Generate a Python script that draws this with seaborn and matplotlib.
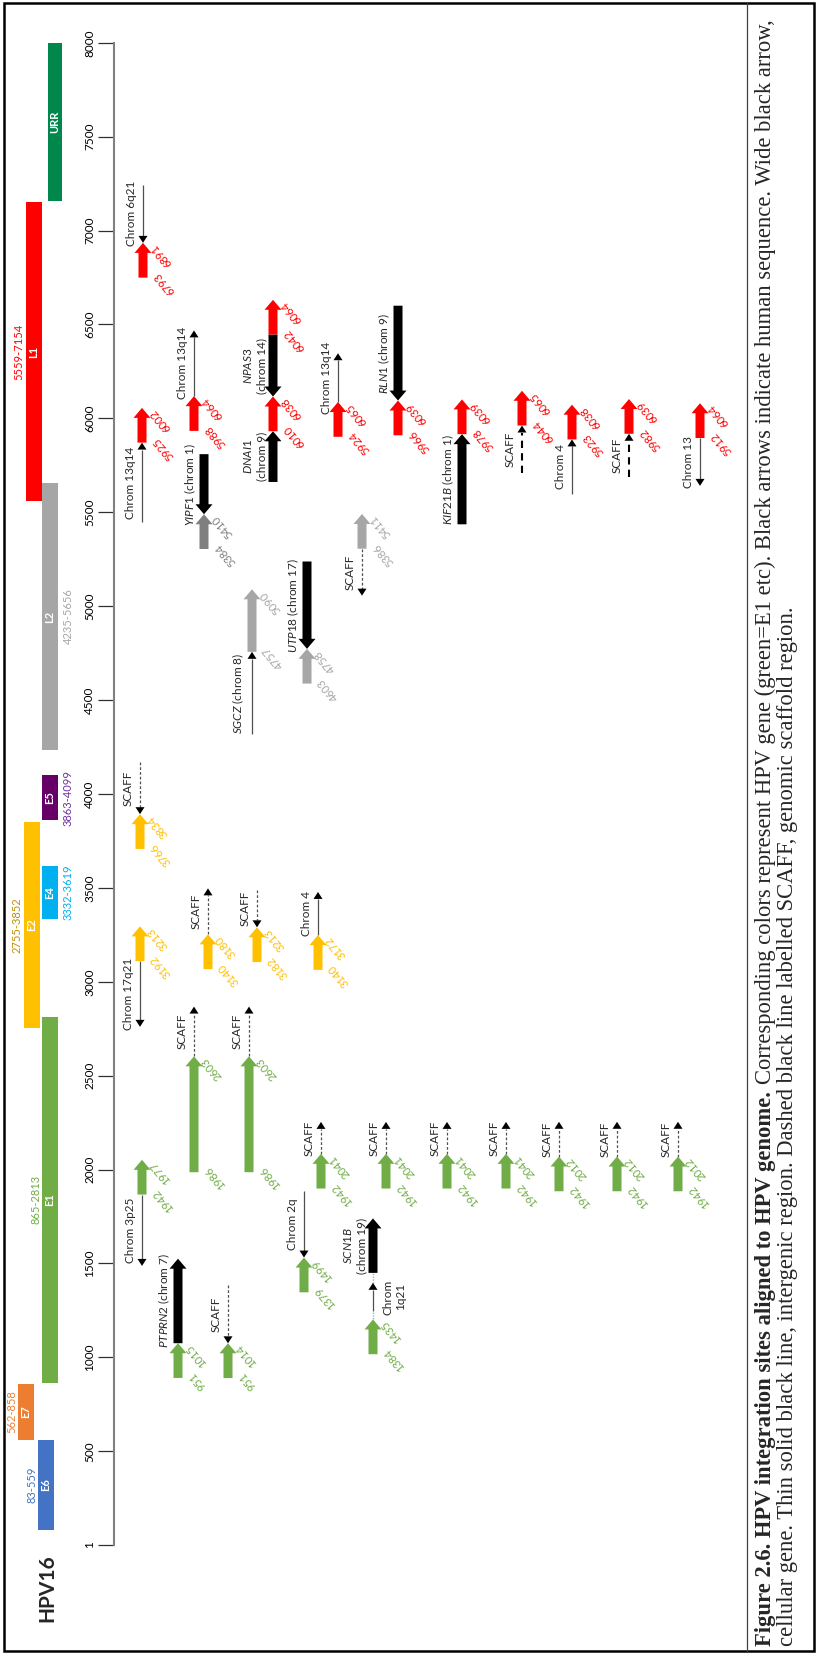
import matplotlib
matplotlib.use("Agg")
import matplotlib.pyplot as plt
from matplotlib.patches import Polygon, Rectangle
from matplotlib.lines import Line2D
import seaborn as sns

sns.set_theme(style="white")
plt.rcParams["font.family"] = ["Lato", "DejaVu Sans"]
plt.rcParams["mathtext.fontset"] = "custom"
plt.rcParams["mathtext.rm"] = "Lato"
plt.rcParams["mathtext.it"] = "Lato:italic"
plt.rcParams["mathtext.bf"] = "Lato:bold"

# ---------------- HPV16 genome map ----------------
gene_names = ["E6", "E7", "E1", "E2", "E4", "E5", "L2", "L1", "URR"]
gene_start = [83, 562, 865, 2755, 3332, 3863, 4235, 5559, 7155]
gene_end = [559, 858, 2813, 3852, 3619, 4099, 5656, 7154, 8000]
gene_ranges = ["83-559", "562-858", "865-2813", "2755-3852", "3332-3619",
               "3863-4099", "4235-5656", "5559-7154", ""]
genome_ticks = [1, 500, 1000, 1500, 2000, 2500, 3000, 3500, 4000,
                4500, 5000, 5500, 6000, 6500, 7000, 7500, 8000]

# ---------------- viral segment of each integration site ----------------
site_start = [6793, 5925, 3766, 3192, 1942, 951, 5988, 5384, 1986, 3140, 951, 1986,
              3182, 4757, 6010, 4603, 1379, 3140, 1942, 5924, 5386, 1384, 1942, 5966,
              1942, 5978, 1942, 6044, 1942, 5923, 1942, 5982, 1942, 5912]
site_end = [6891, 6002, 3834, 3213, 1977, 1015, 6064, 5410, 2603, 3180, 1014, 2603,
            3213, 5090, 6038, 4758, 1499, 3172, 2041, 6065, 5411, 1435, 2041, 6039,
            2041, 6039, 2041, 6065, 2012, 6038, 2012, 6039, 2012, 6064]
site_gene = ["L1", "L1", "E2", "E2", "E1", "E1", "L1", "L2", "E1", "E2", "E1", "E1",
             "E2", "L2", "L1", "L2", "E1", "E2", "E1", "L1", "L2", "E1", "E1", "L1",
             "E1", "L1", "E1", "L1", "E1", "L1", "E1", "L1", "E1", "L1"]

# joined sequence below / above each viral segment, listed outward:
# (kind, span in bp, arrow direction, label)
site_below = [
    [], [("line", 425, "up", "Chrom 13q14")], [], [("line", 350, "down", "Chrom 17q21")],
    [("line", 380, "down", "Chrom 3p25")], [], [], [], [], [], [], [], [],
    [("line", 440, "up", "SGCZ (chrom 8)")], [("gene", 270, "up", "DNAI1\n(chrom 9)")],
    [], [], [], [], [], [("dash", 250, "down", "SCAFF")], [], [], [], [],
    [("gene", 480, "up", "KIF21B (chrom 1)")], [], [("dash2", 255, "up", "SCAFF")], [],
    [("line", 290, "up", "Chrom 4")], [], [("dash2", 230, "up", "SCAFF")], [],
    [("line", 255, "down", "Chrom 13")],
]
site_above = [
    [("line", 310, "down", "Chrom 6q21")], [], [("dash", 280, "down", "SCAFF")], [], [],
    [("gene", 450, "up", "PTPRN2 (chrom 7)")], [("line", 350, "up", "Chrom 13q14")],
    [("gene", 320, "down", "YIPF1 (chrom 1)")], [("dash", 265, "up", "SCAFF")],
    [("dash", 245, "up", "SCAFF")], [("dash", 310, "down", "SCAFF")],
    [("dash", 265, "up", "SCAFF")], [("dash", 200, "down", "SCAFF")], [],
    [("gene", 330, "down", "NPAS3\n(chrom 14)"), ("hpv", 6042, 6064, "L1")],
    [("gene", 465, "down", "UTP18 (chrom 17)")], [("line", 355, "down", "Chrom 2q")],
    [("line", 230, "up", "Chrom 4")], [("dash", 170, "up", "SCAFF")],
    [("line", 260, "up", "Chrom 13q14")], [],
    [("link", 45, None, ""), ("line", 150, "up", "Chrom\n1q21"), ("link", 53, None, ""),
     ("gene", 290, "up", "SCN1B\n(chrom 19)")],
    [("dash", 170, "up", "SCAFF")], [("gene", 505, "down", "RLN1 (chrom 9)")],
    [("dash", 170, "up", "SCAFF")], [], [("dash", 170, "up", "SCAFF")], [],
    [("dash", 185, "up", "SCAFF")], [], [("dash", 185, "up", "SCAFF")], [],
    [("dash", 185, "up", "SCAFF")], [],
]

caption_bold = "Figure 2.6. HPV integration sites aligned to HPV genome."
caption_rest = ("Corresponding colors represent HPV gene (green=E1 etc). Black arrows "
                "indicate human sequence. Wide black arrow,")
caption_line2 = ("cellular gene. Thin solid black line, intergenic region. Dashed black "
                 "line labelled SCAFF, genomic scaffold region.")

# ---------------- layout & style ----------------
FIG_W, FIG_H = 817, 1654
AXIS_X = 114            # pixel column of the genome axis
Y1_PX, SCALE = 1545, 0.1878   # pixel row of position 1, pixels per bp
PX = 1.0 / SCALE        # bp per pixel
MIN_SPAN = 185          # shortest drawn viral segment (bp)

gene_colors = {"E6": "#4472C4", "E7": "#ED7D31", "E1": "#70AD47", "E2": "#FFC000",
               "E4": "#00B0F0", "E5": "#660066", "L2": "#A6A6A6", "L1": "#FF0000",
               "URR": "#00884C"}
range_colors = dict(gene_colors, E2="#BF9000", E5="#7030A0")
gene_xc = {"E6": 46, "E7": 26, "E1": 50, "E2": 32, "E4": 50, "E5": 50,
           "L2": 50, "L1": 33.5, "URR": 55}
gene_w = {"URR": 14}
range_side = {"E6": "left", "E7": "left", "E1": "left", "E2": "left", "E4": "right",
              "E5": "right", "L2": "right", "L1": "left"}
lane_x = [143, 142, 140, 140, 142, 178, 194, 204, 194, 208, 228, 249, 257, 252, 273,
          307, 304, 318, 321, 338, 362, 373, 386, 398, 447, 462, 506, 522, 559, 572,
          617, 629, 678, 700]
# schematic vertical offset (bp) so a stack clears the SCAFF row above it
lane_shift = {21: -300}
shade_override = {7: "#7F7F7F"}
right_side_labels = {"Chrom\n1q21"}
line_styles = {
    "line": dict(color="#505050", lw=0.9, ls="-"),
    "dash": dict(color="#505050", lw=0.9, ls=(0, (2.2, 1.6))),
    "dash2": dict(color="black", lw=1.5, ls=(0, (3.5, 2.5))),
    "link": dict(color="#8FB4E3", lw=1.0, ls=(0, (1, 1))),
}
NUM_FS, TXT_FS, GENE_FS = 8.0, 8.5, 8.0

fig = plt.figure(figsize=(FIG_W / 100, FIG_H / 100), dpi=100)
ax = fig.add_axes([AXIS_X / FIG_W, 0, 1 - AXIS_X / FIG_W, 1])
ax.set_xlim(AXIS_X, FIG_W)
ax.set_ylim(1 - (FIG_H - Y1_PX) / SCALE, 1 + Y1_PX / SCALE)
ax.set_facecolor("none")

# genome axis
sns.despine(ax=ax, top=True, right=True, bottom=True)
ax.set_xticks([])
ax.set_yticks(genome_ticks)
ax.set_yticklabels([str(t) for t in genome_ticks])
ax.spines["left"].set_bounds(1, 8000)
ax.spines["left"].set_color("#808080")
ax.spines["left"].set_linewidth(1.5)
ax.tick_params(axis="y", length=11.5, width=0.9, color="#303030", pad=2.0,
               labelsize=8.5, labelcolor="black", labelrotation=90, left=True)
for lab in ax.get_yticklabels():
    lab.set_va("center")

# gene bars
for name, s, e, rng in zip(gene_names, gene_start, gene_end, gene_ranges):
    xc, w = gene_xc[name], gene_w.get(name, 16)
    ax.bar(xc, e - s, bottom=s, width=w, color=gene_colors[name], linewidth=0,
           clip_on=False)
    mid = (s + e) / 2
    ax.text(xc, mid, name, rotation=90, ha="center", va="center", color="white",
            fontweight="bold", fontsize=GENE_FS)
    if rng:
        if range_side[name] == "left":
            ax.text(xc - w / 2 - 1, mid, rng, rotation=90, ha="right", va="center",
                    color=range_colors[name], fontsize=GENE_FS)
        else:
            ax.text(xc + w / 2 + 5, mid, rng, rotation=90, ha="left", va="center",
                    color=range_colors[name], fontsize=GENE_FS)


def block_arrow(x, lo, hi, color, up=True):
    bw, hw = 4.5, 8.5
    hl = min(10 * PX, 0.6 * (hi - lo))
    if up:
        pts = [(x - bw, lo), (x + bw, lo), (x + bw, hi - hl), (x + hw, hi - hl),
               (x, hi), (x - hw, hi - hl), (x - bw, hi - hl)]
    else:
        pts = [(x - bw, hi), (x + bw, hi), (x + bw, lo + hl), (x + hw, lo + hl),
               (x, lo), (x - hw, lo + hl), (x - bw, lo + hl)]
    ax.add_patch(Polygon(pts, closed=True, facecolor=color, edgecolor="none",
                         clip_on=False, zorder=3))


def thin_arrow(x, lo, hi, pointing, kind):
    st = line_styles[kind]
    if pointing is None:
        ax.plot([x, x], [lo, hi], color=st["color"], lw=st["lw"], ls=st["ls"], zorder=2)
        return
    hl, hw = 7 * PX, 4.5
    tip, tail, sgn = (hi, lo, 1) if pointing == "up" else (lo, hi, -1)
    ax.plot([x, x], [tail, tip - sgn * hl], color=st["color"], lw=st["lw"],
            ls=st["ls"], solid_capstyle="butt", zorder=2)
    ax.add_patch(Polygon([(x - hw, tip - sgn * hl), (x + hw, tip - sgn * hl), (x, tip)],
                         closed=True, facecolor="black", edgecolor="none", zorder=3))


def fmt_label(text):
    if "(chrom" in text and not text.startswith("Chrom"):
        sep = "\n" if "\n" in text else " "
        head, tail = text.split(sep, 1)
        return r"$\mathit{" + head + "}$" + sep + tail
    return text


def piece_label(x, lo, hi, text):
    if not text:
        return
    mid = (lo + hi) / 2
    if text in right_side_labels:
        ax.annotate(text, (x, mid), xytext=(9, 0), textcoords="offset pixels",
                    rotation=90, ha="left", va="center", fontsize=TXT_FS,
                    multialignment="center")
    else:
        ax.annotate(fmt_label(text), (x, mid), xytext=(-6, 0),
                    textcoords="offset pixels", rotation=90, ha="right",
                    va="center", fontsize=TXT_FS, multialignment="center")


def viral_segment(x, lo, hi, start, end, color):
    block_arrow(x, lo, hi, color, up=True)
    kw = dict(textcoords="offset pixels", rotation=130, rotation_mode="anchor",
              ha="right", va="top", fontsize=NUM_FS, color=color)
    ax.annotate(str(end), (x, hi), xytext=(5.5, -6), **kw)
    ax.annotate(str(start), (x, lo), xytext=(8.5, 1), **kw)


def stack(x, anchor, sign, pieces):
    cur = anchor
    for piece in pieces:
        if piece[0] == "hpv":
            _, s, e, g = piece
            span = max(e - s, MIN_SPAN)
            lo, hi = (cur, cur + span) if sign > 0 else (cur - span, cur)
            viral_segment(x, lo, hi, s, e, gene_colors[g])
        else:
            kind, span, pointing, label = piece
            lo, hi = (cur, cur + span) if sign > 0 else (cur - span, cur)
            if kind == "gene":
                block_arrow(x, lo, hi, "black", up=(pointing == "up"))
            else:
                thin_arrow(x, lo, hi, pointing, kind)
            piece_label(x, lo, hi, label)
        cur = cur + sign * span


for i, (s, e, g) in enumerate(zip(site_start, site_end, site_gene)):
    x = lane_x[i]
    col = shade_override.get(i, gene_colors[g])
    mid = (s + e) / 2 + lane_shift.get(i, 0)
    span = max(e - s, MIN_SPAN)
    lo, hi = mid - span / 2, mid + span / 2
    viral_segment(x, lo, hi, s, e, col)
    stack(x, hi, +1, site_above[i])
    stack(x, lo, -1, site_below[i])

# title of the genome track
fig.text(47 / FIG_W, 1 - 1588 / FIG_H, "HPV16", rotation=90, ha="center", va="center",
         fontweight="bold", fontsize=15)

# frame and caption panel
fig.add_artist(Rectangle((4 / FIG_W, 1 - 1651 / FIG_H), (814 - 4) / FIG_W,
                         (1651 - 3) / FIG_H, transform=fig.transFigure, fill=False,
                         lw=1.8, ec="black"))
fig.add_artist(Line2D([747 / FIG_W] * 2, [1 - 1651 / FIG_H, 1 - 3 / FIG_H],
                      transform=fig.transFigure, color="#404040", lw=0.9))

serif = ["Liberation Serif", "DejaVu Serif"]
cap_fs = 14.0
y_base = 1 - 1646 / FIG_H
t_bold = fig.text(765 / FIG_W, y_base, caption_bold, rotation=90, ha="center",
                  va="bottom", family=serif, fontweight="bold", fontsize=cap_fs)
t_rest = fig.text(765 / FIG_W, y_base, caption_rest, rotation=90, ha="center",
                  va="bottom", family=serif, fontsize=cap_fs)
t_two = fig.text(787 / FIG_W, y_base, caption_line2, rotation=90, ha="center",
                 va="bottom", family=serif, fontsize=cap_fs)
renderer = fig.canvas.get_renderer()
hb = t_bold.get_window_extent(renderer).height
hr = t_rest.get_window_extent(renderer).height
gap = 0.3 * cap_fs * 100 / 72
factor = 1634 / (hb + gap + hr)
cap_fs *= factor
for t in (t_bold, t_rest, t_two):
    t.set_fontsize(cap_fs)
hb = t_bold.get_window_extent(renderer).height
gap = 0.3 * cap_fs * 100 / 72
t_rest.set_y(y_base + (hb + gap) / FIG_H)

fig.savefig("out.png", dpi=100)
